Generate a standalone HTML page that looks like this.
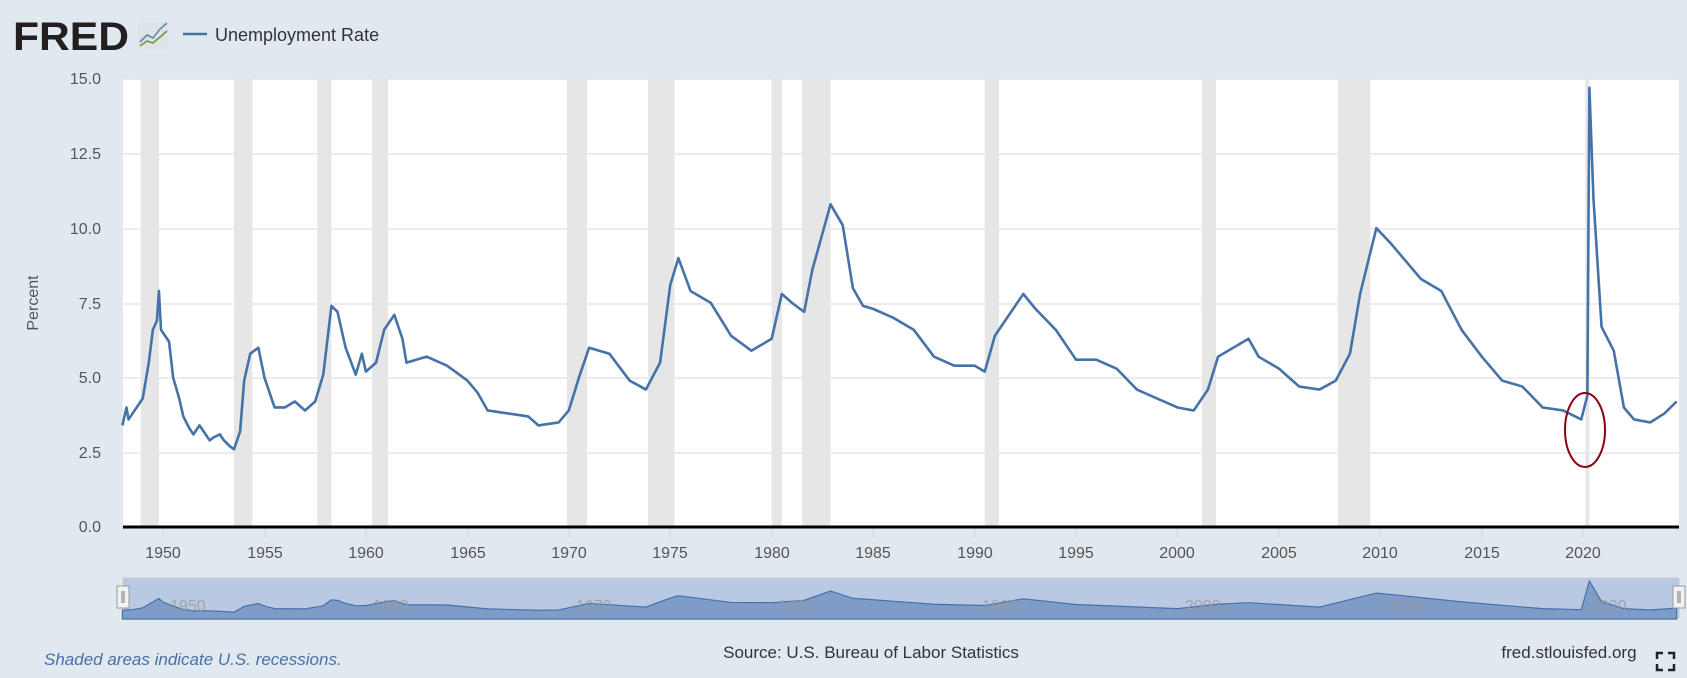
<!DOCTYPE html>
<html><head><meta charset="utf-8"><style>
body{margin:0;width:1687px;height:678px;background:#e1e9f0;overflow:hidden;font-family:"Liberation Sans",sans-serif}
</style></head><body>
<svg width="1687" height="678" xmlns="http://www.w3.org/2000/svg" style="position:absolute;left:0;top:0">
<rect x="123" y="79" width="1556" height="448" fill="#fff"/>
<g transform="translate(122.42,527) scale(20.29,-29.88)" fill="#e6e6e6">
<rect x="0.9" y="0" width="0.9" height="15"/><rect x="5.5" y="0" width="0.9" height="15"/>
<rect x="9.6" y="0" width="0.7" height="15"/><rect x="12.3" y="0" width="0.8" height="15"/>
<rect x="21.9" y="0" width="1" height="15"/><rect x="25.9" y="0" width="1.3" height="15"/>
<rect x="32" y="0" width="0.5" height="15"/><rect x="33.5" y="0" width="1.4" height="15"/>
<rect x="42.5" y="0" width="0.7" height="15"/><rect x="53.2" y="0" width="0.7" height="15"/>
<rect x="59.9" y="0" width="1.6" height="15"/><rect x="72.1" y="0" width="0.2" height="15"/>
</g>
<g stroke="#e6e6e6" stroke-width="1.5">
<line x1="123" x2="1679" y1="79" y2="79"/><line x1="123" x2="1679" y1="154" y2="154"/>
<line x1="123" x2="1679" y1="229" y2="229"/><line x1="123" x2="1679" y1="304" y2="304"/>
<line x1="123" x2="1679" y1="378" y2="378"/><line x1="123" x2="1679" y1="453" y2="453"/>
</g>
<g transform="translate(122.42,527) scale(20.29,-29.88)">
<polyline vector-effect="non-scaling-stroke" fill="none" stroke="#4572a7" stroke-width="2.6" stroke-linejoin="round" points="0,3.4 0.2,4.0 0.3,3.6 0.5,3.8 0.7,4.0 1,4.3 1.3,5.5 1.5,6.6 1.7,6.9 1.8,7.9 1.9,6.6 2,6.5 2.3,6.2 2.5,5.0 2.8,4.3 3,3.7 3.3,3.3 3.5,3.1 3.8,3.4 4,3.2 4.3,2.9 4.5,3.0 4.8,3.1 5,2.9 5.3,2.7 5.5,2.6 5.8,3.2 6,4.9 6.3,5.8 6.7,6.0 7,5.0 7.3,4.4 7.5,4.0 8,4.0 8.5,4.2 9,3.9 9.5,4.2 9.9,5.1 10.3,7.4 10.6,7.2 10.9,6.3 11,6.0 11.5,5.1 11.8,5.8 12,5.2 12.5,5.5 12.9,6.6 13.4,7.1 13.8,6.3 14,5.5 15,5.7 16,5.4 17,4.9 17.5,4.5 18,3.9 19,3.8 20,3.7 20.5,3.4 21.5,3.5 22,3.9 22.5,5.0 23,6.0 24,5.8 25,4.9 25.8,4.6 26.5,5.5 27,8.1 27.4,9.0 28,7.9 29,7.5 30,6.4 31,5.9 32,6.3 32.5,7.8 33,7.5 33.6,7.2 34,8.6 34.9,10.8 35.5,10.1 36,8.0 36.5,7.4 37,7.3 38,7.0 39,6.6 40,5.7 41,5.4 42,5.4 42.5,5.2 43,6.4 44.4,7.8 45,7.3 46,6.6 47,5.6 48,5.6 49,5.3 50,4.6 51,4.3 52,4.0 52.8,3.9 53.5,4.6 54,5.7 55.5,6.3 56,5.7 57,5.3 58,4.7 59,4.6 59.8,4.9 60.5,5.8 61,7.8 61.8,10.0 62.5,9.5 63,9.1 64,8.3 65,7.9 66,6.6 67,5.7 68,4.9 69,4.7 70,4.0 71,3.9 71.9,3.6 72.2,4.4 72.3,14.7 72.5,11.0 72.9,6.7 73.5,5.9 74,4.0 74.5,3.6 75.3,3.5 76,3.8 76.6,4.2"/>
</g>
<line x1="123" x2="1679" y1="527" y2="527" stroke="#000" stroke-width="3"/>
<ellipse cx="1585" cy="430" rx="20" ry="37" fill="none" stroke="#8b0015" stroke-width="2"/>
<g font-size="16" fill="#555" text-anchor="end">
<text x="101" y="84">15.0</text><text x="101" y="159">12.5</text><text x="101" y="234">10.0</text>
<text x="101" y="309">7.5</text><text x="101" y="383">5.0</text><text x="101" y="458">2.5</text><text x="101" y="532">0.0</text>
</g>
<text transform="translate(38,303) rotate(-90)" font-size="16" fill="#555" text-anchor="middle">Percent</text>
<g stroke="#c8d6e6" stroke-width="1">
<line x1="163" x2="163" y1="529" y2="538"/><line x1="265" x2="265" y1="529" y2="538"/><line x1="366" x2="366" y1="529" y2="538"/><line x1="468" x2="468" y1="529" y2="538"/><line x1="569" x2="569" y1="529" y2="538"/><line x1="670" x2="670" y1="529" y2="538"/><line x1="772" x2="772" y1="529" y2="538"/><line x1="873" x2="873" y1="529" y2="538"/><line x1="975" x2="975" y1="529" y2="538"/><line x1="1076" x2="1076" y1="529" y2="538"/><line x1="1177" x2="1177" y1="529" y2="538"/><line x1="1279" x2="1279" y1="529" y2="538"/><line x1="1380" x2="1380" y1="529" y2="538"/><line x1="1482" x2="1482" y1="529" y2="538"/><line x1="1583" x2="1583" y1="529" y2="538"/>
</g>
<g font-size="16" fill="#555" text-anchor="middle">
<text x="163" y="558">1950</text><text x="265" y="558">1955</text><text x="366" y="558">1960</text><text x="468" y="558">1965</text><text x="569" y="558">1970</text><text x="670" y="558">1975</text><text x="772" y="558">1980</text><text x="873" y="558">1985</text><text x="975" y="558">1990</text><text x="1076" y="558">1995</text><text x="1177" y="558">2000</text><text x="1279" y="558">2005</text><text x="1380" y="558">2010</text><text x="1482" y="558">2015</text><text x="1583" y="558">2020</text>
</g>
<rect x="123" y="578" width="1556" height="40" fill="#b9c9e3" stroke="#ccc"/>
<g transform="translate(122.42,619) scale(20.29,-2.59)">
<polygon vector-effect="non-scaling-stroke" points="0,0 0,3.4 0.5,3.6 1,4.3 1.5,6.6 1.8,7.9 2,6.5 2.5,5.0 3,3.7 3.5,3.1 4,3.2 5,2.9 5.5,2.6 6,4.9 6.7,6.0 7,5.0 7.5,4.0 9,3.9 9.9,5.1 10.3,7.4 10.6,7.2 11,6.0 11.5,5.1 12,5.2 12.9,6.6 13.4,7.1 14,5.5 16,5.4 18,3.9 20.5,3.4 21.5,3.5 23,6.0 25.8,4.6 27,8.1 27.4,9.0 30,6.4 32,6.3 33.6,7.2 34.9,10.8 36,8.0 40,5.7 42.5,5.2 44.4,7.8 47,5.6 52,4.0 54,5.7 55.5,6.3 59,4.6 61.8,10.0 63,9.1 66,6.6 70,4.0 71.9,3.6 72.3,14.7 72.9,6.7 74,4.0 75.3,3.5 76.6,4.2 76.6,0" fill="#7f9cc8" stroke="#4572a7" stroke-width="1.2"/>
</g>
<g font-size="16" fill="#999" fill-opacity="0.8">
<text x="170" y="611">1950</text><text x="373" y="611">1960</text><text x="576" y="611">1970</text><text x="779" y="611">1980</text><text x="982" y="611">1990</text><text x="1185" y="611">2000</text><text x="1388" y="611">2010</text><text x="1591" y="611">2020</text>
</g>
<rect x="117" y="586" width="12" height="22" fill="#f2f2f2" stroke="#999"/>
<line x1="122" x2="122" y1="591" y2="603" stroke="#777"/><line x1="124" x2="124" y1="591" y2="603" stroke="#777"/>
<rect x="1673" y="586" width="12" height="22" fill="#f2f2f2" stroke="#999"/>
<line x1="1678" x2="1678" y1="591" y2="603" stroke="#777"/><line x1="1680" x2="1680" y1="591" y2="603" stroke="#777"/>
<text x="13" y="50" font-size="40" font-weight="bold" fill="#231f20" textLength="116" lengthAdjust="spacingAndGlyphs">FRED</text>
<rect x="138" y="22" width="31" height="27" rx="3" fill="#dfe3e6"/>
<polyline points="140,42 147,35 153,38 160,29 167,23" fill="none" stroke="#5b8ab8" stroke-width="1.6"/>
<polyline points="140,46 147,41 153,43 160,37 167,31" fill="none" stroke="#6a9a3a" stroke-width="1.6"/>
<line x1="183" x2="207" y1="34" y2="34" stroke="#4572a7" stroke-width="2.5"/>
<text x="215" y="41" font-size="18" fill="#333">Unemployment Rate</text>
<text x="44" y="665" font-size="17" font-style="italic" fill="#4a6fa5">Shaded areas indicate U.S. recessions.</text>
<text x="871" y="658" font-size="17" fill="#333" text-anchor="middle">Source: U.S. Bureau of Labor Statistics</text>
<text x="1569" y="658" font-size="17" fill="#333" text-anchor="middle">fred.stlouisfed.org</text>
<g stroke="#222" stroke-width="2.5" fill="none">
<polyline points="1657,659 1657,653 1663,653"/><polyline points="1668,653 1674,653 1674,659"/>
<polyline points="1657,664 1657,670 1663,670"/><polyline points="1668,670 1674,670 1674,664"/>
</g>
</svg>
</body></html>
